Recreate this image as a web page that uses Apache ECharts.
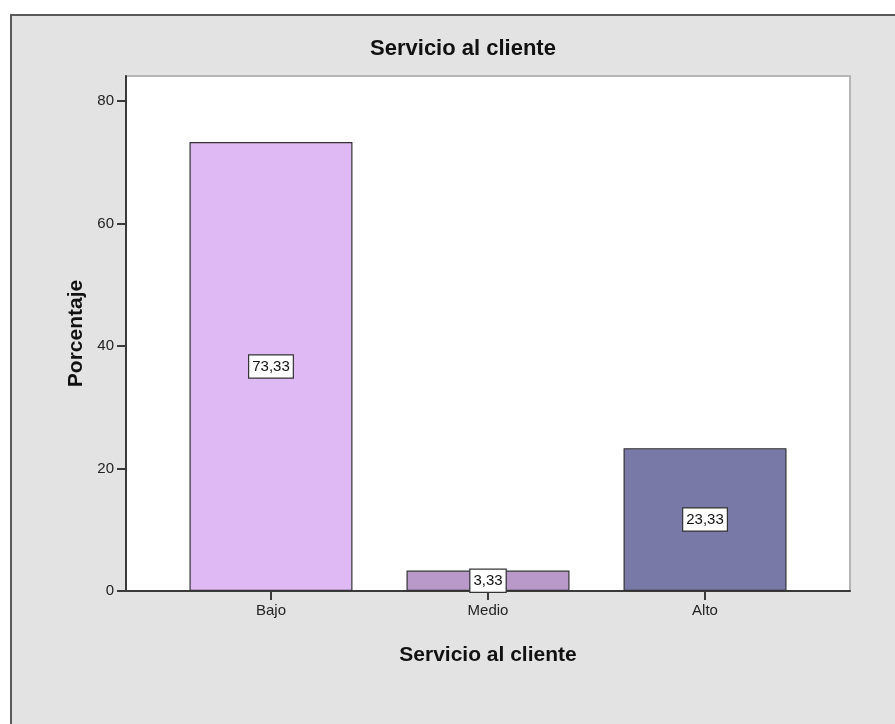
<!DOCTYPE html>
<html>
<head>
<meta charset="utf-8">
<script src="https://cdn.jsdelivr.net/npm/echarts@6/dist/echarts.min.js"></script>
<style>
  html, body { margin: 0; padding: 0; background: #ffffff; }
  #chart { width: 895px; height: 724px; }
</style>
</head>
<body>
<div id="chart"></div>
<script>
// Category names, percentages and y-axis tick values
const categories = ['Bajo', 'Medio', 'Alto'];
const percentages = [73.33, 3.33, 23.33];
const barColors = ['#dfb9f3', '#b999c9', '#7879a6'];
const yTicks = [0, 20, 40, 60, 80];

const font = '"Liberation Sans", Arial, sans-serif';

const chart = echarts.init(document.getElementById('chart'), null, { renderer: 'canvas' });

const option = {
  backgroundColor: '#ffffff',
  animation: false,
  graphic: [
    {
      type: 'rect',
      z: -10,
      shape: { x: 11, y: 15, width: 900, height: 720 },
      style: { fill: '#e3e3e3', stroke: '#5a5a5a', lineWidth: 2 }
    }
  ],
  title: {
    text: 'Servicio al cliente',
    left: 458,
    top: 33,
    textAlign: 'center',
    textStyle: { fontFamily: font, fontSize: 22, fontWeight: 'bold', color: '#111' }
  },
  grid: {
    left: 126,
    top: 76,
    right: 45,
    bottom: 133,
    show: true,
    backgroundColor: '#ffffff',
    borderColor: '#b5b5b5',
    borderWidth: 2
  },
  xAxis: {
    type: 'value',
    min: -0.668,
    max: 2.668,
    name: 'Servicio al cliente',
    nameLocation: 'middle',
    nameGap: 54,
    nameTextStyle: { fontFamily: font, fontSize: 21, fontWeight: 'bold', color: '#111' },
    splitLine: { show: false },
    axisLine: { show: true, onZero: false, lineStyle: { color: '#3a3a3a', width: 2 } },
    axisTick: {
      show: true,
      length: 9,
      customValues: categories.map((_, i) => i),
      lineStyle: { color: '#3a3a3a', width: 2 }
    },
    axisLabel: {
      customValues: categories.map((_, i) => i),
      formatter: v => categories[Math.round(v)] || '',
      margin: 12,
      fontFamily: font,
      fontSize: 15,
      color: '#222'
    }
  },
  yAxis: {
    type: 'value',
    min: 0,
    max: 84.1,
    name: 'Porcentaje',
    nameLocation: 'middle',
    nameGap: 37,
    nameRotate: 90,
    nameTextStyle: { fontFamily: font, fontSize: 21, fontWeight: 'bold', color: '#111' },
    splitLine: { show: false },
    axisLine: { show: true, onZero: false, lineStyle: { color: '#3a3a3a', width: 2 } },
    axisTick: {
      show: true,
      length: 9,
      customValues: yTicks,
      lineStyle: { color: '#3a3a3a', width: 2 }
    },
    axisLabel: {
      customValues: yTicks,
      margin: 12,
      fontFamily: font,
      fontSize: 15,
      color: '#222'
    }
  },
  series: [
    {
      type: 'bar',
      barWidth: 163,
      data: percentages.map((v, i) => ({
        value: [i, v],
        itemStyle: { color: barColors[i], borderColor: '#333333', borderWidth: 1.2 }
      })),
      label: {
        show: true,
        position: 'inside',
        formatter: p => p.value[1].toFixed(2).replace('.', ','),
        fontFamily: font,
        fontSize: 15,
        color: '#111',
        backgroundColor: '#ffffff',
        borderColor: '#333333',
        borderWidth: 1.2,
        padding: [4, 3, 3, 3]
      }
    }
  ]
};

chart.setOption(option);
</script>
</body>
</html>
